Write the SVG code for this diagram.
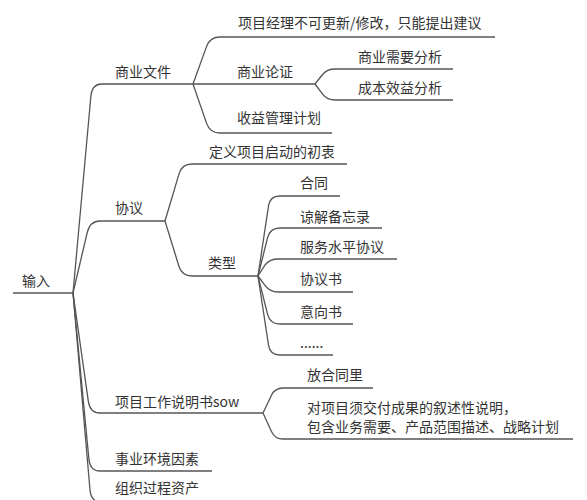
<svg xmlns="http://www.w3.org/2000/svg" width="587" height="500" viewBox="0 0 587 500">
<style>
text{font-family:"Noto Sans CJK SC","Liberation Sans",sans-serif;font-size:14px;fill:#333}
.u,.c{stroke:#555;stroke-width:1.3;fill:none}
</style>
<rect width="587" height="500" fill="#fff"/>
<g id="connectors">
<path class="c" d="M73,293 L90.9,96 Q92,84 102,84"/>
<path class="c" d="M73,293 L87.2,232.7 Q90,221 100,221"/>
<path class="c" d="M73,293 L88.3,401.1 Q90,413 100,413"/>
<path class="c" d="M73,293 L88.9,459 Q90,471 100,471"/>
<path class="c" d="M73,293 L90,490 Q91,502 101,502"/>
<path class="c" d="M193,84 L206.6,46.4 Q210,37 220,37"/>
<path class="c" d="M193,84 L206.7,123.6 Q210,133 220,133"/>
<path class="c" d="M315,84 L322.6,74.5 Q327,69 335,69"/>
<path class="c" d="M315,84 L322.8,94.4 Q327,100 335,100"/>
<path class="c" d="M165,221 L179.1,173.6 Q182,164 192,164"/>
<path class="c" d="M165,221 L179,266.5 Q182,276 192,276"/>
<path class="c" d="M258,276 L268.5,205.9 Q270,196 280,196"/>
<path class="c" d="M258,276 L267.6,237.7 Q270,228 280,228"/>
<path class="c" d="M258,276 L265.4,264.5 Q270,259 278,259"/>
<path class="c" d="M258,276 L265.2,285.6 Q270,292 278,292"/>
<path class="c" d="M258,276 L267.6,314.3 Q270,324 280,324"/>
<path class="c" d="M258,276 L268.5,345.1 Q270,355 280,355"/>
<path class="c" d="M263,413 L271.5,395.2 Q275,388 283,388"/>
<path class="c" d="M263,413 L271.6,431.7 Q275,439 283,439"/>
</g>
<g id="n-root"><line class="u" x1="13" y1="293" x2="73" y2="293"/><text x="22" y="286">输入</text></g>
<g id="n-bizdoc"><line class="u" x1="102" y1="84" x2="193" y2="84"/><text x="115" y="77">商业文件</text></g>
<g id="n-pm"><line class="u" x1="220" y1="37" x2="495" y2="37"/><text x="238" y="28">项目经理不可更新/修改，只能提出建议</text></g>
<g id="n-bizcase"><line class="u" x1="193" y1="84" x2="315" y2="84"/><text x="237" y="77">商业论证</text></g>
<g id="n-need"><line class="u" x1="335" y1="69" x2="453" y2="69"/><text x="358" y="62">商业需要分析</text></g>
<g id="n-cost"><line class="u" x1="335" y1="100" x2="453" y2="100"/><text x="358" y="93">成本效益分析</text></g>
<g id="n-benefit"><line class="u" x1="220" y1="133" x2="332" y2="133"/><text x="237" y="123">收益管理计划</text></g>
<g id="n-agree"><line class="u" x1="100" y1="221" x2="165" y2="221"/><text x="115" y="213">协议</text></g>
<g id="n-define"><line class="u" x1="192" y1="164" x2="347" y2="164"/><text x="209" y="157">定义项目启动的初衷</text></g>
<g id="n-type"><line class="u" x1="192" y1="276" x2="258" y2="276"/><text x="208" y="268">类型</text></g>
<g id="n-contract"><line class="u" x1="280" y1="196" x2="340" y2="196"/><text x="300" y="188">合同</text></g>
<g id="n-mou"><line class="u" x1="280" y1="228" x2="382" y2="228"/><text x="300" y="222">谅解备忘录</text></g>
<g id="n-sla"><line class="u" x1="278" y1="259" x2="397" y2="259"/><text x="300" y="252">服务水平协议</text></g>
<g id="n-agreement"><line class="u" x1="278" y1="292" x2="353" y2="292"/><text x="300" y="284">协议书</text></g>
<g id="n-loi"><line class="u" x1="280" y1="324" x2="353" y2="324"/><text x="300" y="317">意向书</text></g>
<g id="n-etc"><line class="u" x1="280" y1="355" x2="333" y2="355"/><text x="300" y="348">......</text></g>
<g id="n-sow"><line class="u" x1="100" y1="413" x2="263" y2="413"/><text x="115" y="407">项目工作说明书sow</text></g>
<g id="n-put"><line class="u" x1="283" y1="388" x2="373" y2="388"/><text x="307" y="380">放合同里</text></g>
<g id="n-desc"><line class="u" x1="283" y1="439" x2="573" y2="439"/><text x="307" y="413">对项目须交付成果的叙述性说明，</text><text x="307" y="432">包含业务需要、产品范围描述、战略计划</text></g>
<g id="n-eef"><line class="u" x1="100" y1="471" x2="212" y2="471"/><text x="115" y="464">事业环境因素</text></g>
<g id="n-opa"><line class="u" x1="101" y1="502" x2="200" y2="502"/><text x="115" y="493">组织过程资产</text></g>
</svg>
